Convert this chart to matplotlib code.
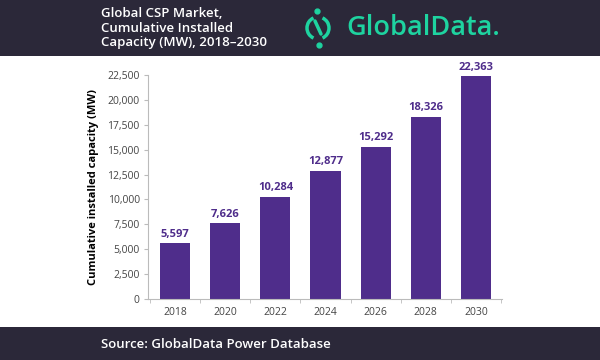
import matplotlib.pyplot as plt
from matplotlib.patches import Rectangle, Arc

years = ['2018', '2020', '2022', '2024', '2026', '2028', '2030']
capacity = [5597, 7626, 10284, 12877, 15292, 18326, 22363]
yticks = [0, 2500, 5000, 7500, 10000, 12500, 15000, 17500, 20000, 22500]

plt.rcParams['font.family'] = ['Open Sans', 'DejaVu Sans']

dark = '#2b2839'
bar_color = '#4f2d8b'
green = '#1ed3a0'

fig = plt.figure(figsize=(6, 3.6), dpi=100)
fig.patch.set_facecolor('white')

# header / footer bands
fig.patches.append(Rectangle((0, 1 - 56/360), 1, 56/360, transform=fig.transFigure,
                             facecolor=dark, edgecolor='none', zorder=0))
fig.patches.append(Rectangle((0, 0), 1, 33/360, transform=fig.transFigure,
                             facecolor=dark, edgecolor='none', zorder=0))

fig.text(101/600, 1 - 28/360, 'Global CSP Market,\nCumulative Installed\nCapacity (MW), 2018\u20132030',
         color='white', fontsize=9.5, fontweight='semibold', va='center', ha='left',
         linespacing=1.15)
fig.text(101/600, 1 - 344/360, 'Source: GlobalData Power Database', color='white',
         fontsize=9.5, fontweight='semibold', va='center', ha='left')

# logo
fig.text(346/600, 1 - 28/360, 'GlobalData.', color=green, fontsize=19.5, fontweight='semibold',
         va='center', ha='left')
cx, cy, r = 318, 28, 11
for t1, t2 in [(105, 255), (-75, 75)]:
    fig.patches.append(Arc((cx/600, 1 - cy/360), 2*r/600, 2*r/360, theta1=t1, theta2=t2,
                           transform=fig.transFigure, color=green, lw=2.5))
fig.add_artist(plt.Line2D([315/600, 321/600], [1 - 21/360, 1 - 34/360], color=green, lw=2.5,
                          solid_capstyle='round', transform=fig.transFigure))
fig.add_artist(plt.Line2D([317/600, 319/600], [1 - 11/360, 1 - 45/360], marker='o', ms=3.5,
                          lw=0, color=green, transform=fig.transFigure))

ax = fig.add_axes([148/600, 1 - 299/360, (502 - 148)/600, (299 - 75)/360])
x = list(range(len(years)))
bars = ax.bar(x, capacity, width=0.6, color=bar_color, zorder=2)
for xi, v in zip(x, capacity):
    ax.text(xi, v + 350, f'{v:,}', ha='center', va='bottom', color=bar_color,
            fontsize=8, fontweight='bold', clip_on=False)

ax.set_xlim(-0.54, 6.52)
ax.set_ylim(0, 22500)
ax.set_yticks(yticks)
ax.set_yticklabels([f'{t:,}' for t in yticks])
ax.set_xticks(x)
ax.set_xticklabels(years)
ax.set_xticks([i + 0.5 for i in range(-1, 7)], minor=True)
ax.tick_params(axis='x', which='major', length=0, pad=6, labelsize=7.5, labelcolor='#444444')
ax.tick_params(axis='x', which='minor', length=3, color='#bbbbbb')
ax.tick_params(axis='y', length=3, color='#bbbbbb', labelsize=7.5, labelcolor='#444444', pad=3)
for s in ['top', 'right']:
    ax.spines[s].set_visible(False)
for s in ['left', 'bottom']:
    ax.spines[s].set_color('#bbbbbb')
ax.set_ylabel('Cumulative installed capacity (MW)', fontsize=8, fontweight='bold', labelpad=6)

fig.savefig('out.png', dpi=100)
